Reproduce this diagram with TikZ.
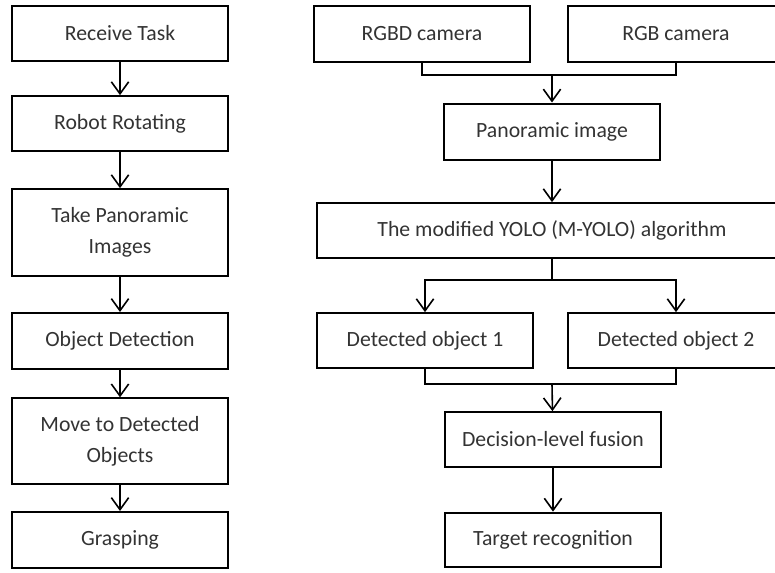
\documentclass[tikz,border=0pt]{standalone}
\usepackage{fontspec}
\setmainfont{Carlito}
\usetikzlibrary{arrows.meta}

\begin{document}
\begin{tikzpicture}[x=0.75pt, y=-0.75pt,
		box/.style={draw, line width=1.5pt, minimum width=162pt, align=center, inner sep=0pt,
			font=\fontsize{16.3}{23}\selectfont, text=black!80},
		arr/.style={line width=1.2pt, -{Straight Barb[length=9pt, width=13pt, line width=1.2pt]}},
		link/.style={line width=1.2pt}]
		%%%%% START %%%%%
		
		\clip (0, 0) rectangle (775, 572);
		
		% left column
		\node[box, minimum height=41pt] (recv) at (120, 33.5) {Receive Task};
		\node[box, minimum height=41pt] (rot) at (120, 123.5) {Robot Rotating};
		\node[box, minimum height=65pt] (take) at (120, 232.5) {Take Panoramic\\Images};
		\node[box, minimum height=42pt] (detect) at (120, 341) {Object Detection};
		\node[box, minimum height=64pt] (move) at (120, 441) {Move to Detected\\Objects};
		\node[box, minimum height=42pt] (grasp) at (120, 540) {Grasping};
		
		\draw[arr] (recv) -- (rot);
		\draw[arr] (rot) -- (take);
		\draw[arr] (take) -- (detect);
		\draw[arr] (detect) -- (move);
		\draw[arr] (move) -- (grasp);
		
		% right column
		\node[box, minimum height=42pt] (rgbd) at (422, 34) {RGBD camera};
		\node[box, minimum height=42pt] (rgb) at (676, 34) {RGB camera};
		\node[box, minimum height=42pt] (pano) at (552, 131.5) {Panoramic image};
		\node[box, minimum height=41pt, minimum width=352pt] (yolo) at (552, 230.5) {The modified YOLO (M-YOLO) algorithm};
		\node[box, minimum height=41pt] (det1) at (425, 340.5) {Detected object 1};
		\node[box, minimum height=41pt] (det2) at (676, 340.5) {Detected object 2};
		\node[box, minimum height=41pt] (fuse) at (553, 439.5) {Decision-level fusion};
		\node[box, minimum height=41pt] (target) at (553, 540) {Target recognition};
		
		\coordinate (jtop) at (552, 75);
		\coordinate (jmid) at (552, 280);
		\coordinate (jbot) at (552, 384);
		
		\draw[link] (rgbd.south) |- (jtop) -| (rgb.south);
		\draw[arr] (jtop) -- (pano);
		\draw[arr] (pano) -- (yolo);
		
		\draw[link] (yolo.south) -- (jmid);
		\draw[arr] (jmid) -| (det1.north);
		\draw[arr] (jmid) -| (det2.north);
		
		\draw[link] (det1.south) |- (jbot) -| (det2.south);
		\draw[arr] (jbot) -- (fuse);
		\draw[arr] (fuse) -- (target);
		
		%%%%% END %%%%%
	\end{tikzpicture}
\end{document}
